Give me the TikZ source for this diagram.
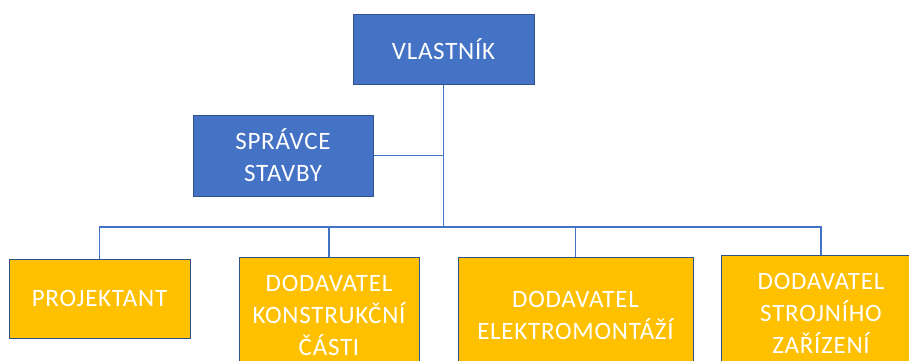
\documentclass[tikz,border=0pt]{standalone}
\usepackage{fontspec}
\setmainfont[LetterSpace=3]{Carlito}
\definecolor{boxblue}{HTML}{4472C4}
\definecolor{boxedge}{HTML}{2F528F}
\definecolor{boxgold}{HTML}{FFC000}
\definecolor{wire}{HTML}{4472C4}
\begin{document}
\begin{tikzpicture}[x=1pt,y=-1pt,
  unit/.style={rectangle, draw=boxedge, line width=1pt, text=white,
    font=\fontsize{25}{32}\selectfont, align=center, inner sep=0pt},
  headunit/.style={unit, fill=boxblue},
  workunit/.style={unit, fill=boxgold},
  link/.style={draw=wire, line width=1.5pt}]
\useasboundingbox (0,0) rectangle (909,360);
\clip (0,0) rectangle (909,360);

% owner and site manager
\node[headunit, minimum width=181pt, minimum height=70pt] (vl) at (443.5,49) {VLASTNÍK};
\node[headunit, minimum width=180pt, minimum height=81pt] (sp) at (283,155.5) {SPRÁVCE\\STAVBY};

% contractors
\node[workunit, minimum width=181pt, minimum height=79pt] (pr) at (99.5,298.5) {PROJEKTANT};
\node[workunit, minimum width=180pt, minimum height=116pt] (ko) at (329,315) {DODAVATEL\\KONSTRUKČNÍ\\ČÁSTI};
\node[workunit, minimum width=235pt, minimum height=116pt] (el) at (575.5,315) {DODAVATEL\\ELEKTROMONTÁŽÍ};
\node[workunit, minimum width=200pt, minimum height=116pt] (st) at (821,313) {DODAVATEL\\STROJNÍHO\\ZAŘÍZENÍ};

% connectors
\coordinate (bus) at (443,227);
\path[link] (vl.south) -- (vl.south |- bus);
\path[link] (sp.east) -- (sp.east -| vl.south);
\path[link] (pr.north) |- (bus) -| (st.north);
\path[link] (ko.north) -- (ko.north |- bus);
\path[link] (el.north) -- (el.north |- bus);
\end{tikzpicture}
\end{document}
